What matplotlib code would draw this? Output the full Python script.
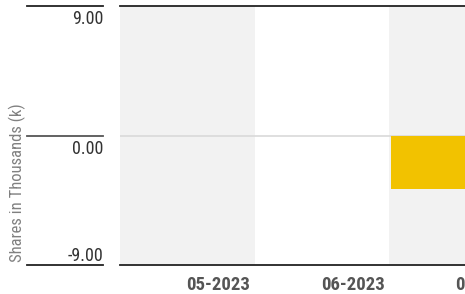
import matplotlib.pyplot as plt
import matplotlib.transforms as mtransforms

# data
months = ['05-2023', '06-2023', '07-2023']
shares_k = [0.0, 0.0, -3.75]
y_ticks = [9.0, 0.0, -9.0]

plt.rcParams['font.family'] = ['Roboto Condensed', 'DejaVu Sans']

fig = plt.figure(figsize=(4.65, 2.94), dpi=100)
W, H = 465, 294
# axes box in pixels: x 120..465, y 6..265 (from top)
ax = fig.add_axes([120 / W, 1 - 265 / H, 345 / W, (265 - 6) / H])

ax.set_xlim(-0.5, 2.065)
ax.set_ylim(-9, 9)

# alternating background bands
for i in range(len(months)):
    if i % 2 == 0:
        ax.axvspan(i - 0.5, i + 0.5, color='#f2f2f2', lw=0, zorder=0)

ax.axhline(0, color='#d9d9d9', lw=1.2, zorder=1)
ax.bar(range(len(months)), shares_k, width=0.97, color='#f2c200', zorder=2)

for s in ['left', 'right']:
    ax.spines[s].set_visible(False)
for s in ['top', 'bottom']:
    ax.spines[s].set_color('#222222')
    ax.spines[s].set_linewidth(1.3)
ax.set_xticks([])
ax.set_yticks([])

# y "ticks": lines to the left of the plot, labels under them (bottom one above)
trans = mtransforms.blended_transform_factory(ax.transAxes, ax.transData)
x0, x1 = (27 - 120) / 345, (103 - 120) / 345
for v in y_ticks:
    col = '#555555' if v == 0 else '#222222'
    ax.plot([x0, x1], [v, v], color=col, lw=1.3, transform=trans, clip_on=False)
    if v == min(y_ticks):
        off, va = (0, 3), 'baseline'
    else:
        off, va = (0, -3), 'top'
    ax.annotate(f'{v:.2f}', xy=(x1, v), xycoords=trans, xytext=off,
                textcoords='offset points', ha='right', va=va,
                fontsize=13, color='#333333', annotation_clip=False)

fig.text(17 / W, 1 - 262 / H, 'Shares in Thousands (k)', rotation=90,
         ha='center', va='bottom', fontsize=12, color='#808080')

# x labels, right-aligned inside each band
for i, m in enumerate(months):
    ax.annotate(m, xy=(i + 0.5, 0), xycoords=('data', 'axes fraction'),
                xytext=(-3, -8), textcoords='offset points', ha='right', va='top',
                fontsize=13.5, fontweight='bold', color='#555555', annotation_clip=False)

fig.savefig('out.png', dpi=100)
